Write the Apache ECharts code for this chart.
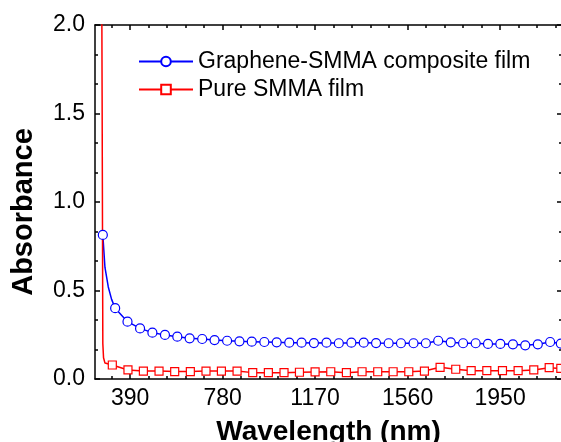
<!DOCTYPE html>
<html>
<head>
<meta charset="utf-8">
<script src="https://cdn.jsdelivr.net/npm/echarts@6/dist/echarts.min.js"></script>
<style>
  html, body { margin: 0; padding: 0; background: #fff; }
  #chart { width: 561px; height: 442px; }
</style>
</head>
<body>
<div id="chart"></div>
<script>
// x ticks (nm) and y ticks
const xMajorTicks = [390, 780, 1170, 1560, 1950]
const xMinorStep = 78

// Graphene-SMMA composite film: marker points
const blueWl  = [275, 327, 379, 432, 484, 537, 589, 641, 694, 746, 799, 851, 903, 956, 1008, 1061, 1113, 1165, 1218,
                 1270, 1323, 1375, 1427, 1480, 1532, 1585, 1637, 1689, 1742, 1794, 1847, 1899, 1951, 2004, 2056, 2109, 2161, 2206]
const blueAbs = [0.814, 0.400, 0.324, 0.286, 0.262, 0.249, 0.239, 0.230, 0.226, 0.220, 0.216, 0.213, 0.211, 0.209, 0.207, 0.205, 0.205, 0.203, 0.205,
                 0.202, 0.205, 0.205, 0.203, 0.202, 0.202, 0.202, 0.202, 0.216, 0.207, 0.202, 0.202, 0.198, 0.198, 0.196, 0.190, 0.196, 0.209, 0.200]
// extra points along the steep knee (no marker)
const blueCurveWl  = [284, 298, 312]
const blueCurveAbs = [0.630, 0.520, 0.450]

// Pure SMMA film: marker points
const redWl  = [315, 381, 446, 512, 578, 644, 710, 775, 841, 907, 973, 1039, 1104, 1170, 1236, 1302, 1368, 1434, 1499,
                1565, 1631, 1697, 1763, 1828, 1894, 1960, 2026, 2092, 2157, 2206]
const redAbs = [0.079, 0.051, 0.045, 0.045, 0.042, 0.042, 0.045, 0.045, 0.045, 0.036, 0.036, 0.036, 0.038, 0.040, 0.041, 0.036, 0.041, 0.041, 0.041,
                0.041, 0.045, 0.066, 0.055, 0.047, 0.047, 0.047, 0.047, 0.051, 0.064, 0.060]
const redCurveWl  = [270, 272, 275, 278, 284]
const redCurveAbs = [2.40, 1.60, 0.200, 0.120, 0.090]

const FONT = 'Liberation Sans, Arial, sans-serif'
const X_MIN = 242, X_MAX = 2211

const xMinorTicks = []
for (let v = xMinorStep * 4; v < X_MAX; v += xMinorStep) {
  if (v % 390 !== 0) xMinorTicks.push(v)
}

function buildData(wl, abs, curveWl, curveAbs) {
  const pts = wl.map((w, i) => ({ value: [w, abs[i]] }))
    .concat(curveWl.map((w, i) => ({ value: [w, curveAbs[i]], symbol: 'none' })))
  return pts.sort((a, b) => a.value[0] - b.value[0])
}

const chart = echarts.init(document.getElementById('chart'))

const grid = { left: 95, top: 25, width: 467, height: 354, outerBoundsMode: 'none' }

const xBase = { type: 'value', min: X_MIN, max: X_MAX, splitLine: { show: false } }

chart.setOption({
  animation: false,
  textStyle: { fontFamily: FONT, color: '#000' },
  grid,
  legend: {
    orient: 'vertical', left: 133, top: 45,
    itemWidth: 54, itemHeight: 12, itemGap: 5,
    textStyle: { fontSize: 23, color: '#000', fontFamily: FONT },
    data: ['Graphene-SMMA composite film', 'Pure SMMA film']
  },
  graphic: [{
    type: 'text', x: 24, y: 212, rotation: Math.PI / 2,
    style: {
      text: 'Absorbance', fill: '#000', font: 'bold 29px ' + FONT,
      align: 'center', verticalAlign: 'middle'
    }
  }],
  xAxis: [
    {
      ...xBase, position: 'bottom',
      name: 'Wavelength (nm)', nameLocation: 'middle', nameGap: 39,
      nameTextStyle: { fontSize: 28, fontWeight: 'bold', color: '#000', fontFamily: FONT },
      axisLine: { lineStyle: { color: '#000', width: 1.5 } },
      axisTick: { inside: true, length: 5, customValues: xMajorTicks, lineStyle: { color: '#000', width: 1.5 } },
      axisLabel: { customValues: xMajorTicks, fontSize: 23, margin: 8, color: '#000', fontFamily: FONT, formatter: v => String(v) }
    },
    {
      ...xBase, position: 'bottom',
      axisLine: { show: false },
      axisTick: { inside: true, length: 3, customValues: xMinorTicks, lineStyle: { color: '#000', width: 1.5 } },
      axisLabel: { show: false }
    },
    {
      ...xBase, position: 'top',
      axisLine: { lineStyle: { color: '#000', width: 1.5 } },
      axisTick: { inside: true, length: 5, customValues: xMajorTicks, lineStyle: { color: '#000', width: 1.5 } },
      axisLabel: { show: false }
    },
    {
      ...xBase, position: 'top',
      axisLine: { show: false },
      axisTick: { inside: true, length: 3, customValues: xMinorTicks, lineStyle: { color: '#000', width: 1.5 } },
      axisLabel: { show: false }
    }
  ],
  yAxis: [
    {
      type: 'value', min: 0, max: 2, interval: 0.5, position: 'left',
      splitLine: { show: false },
      axisLine: { show: true, lineStyle: { color: '#000', width: 1.5 } },
      axisTick: { show: true, inside: true, length: 5, lineStyle: { color: '#000', width: 1.5 } },
      minorTick: { show: true, splitNumber: 3, length: 3, lineStyle: { color: '#000', width: 1.5 } },
      axisLabel: { fontSize: 23, margin: 10, color: '#000', fontFamily: FONT, formatter: v => v.toFixed(1) }
    },
    {
      type: 'value', min: 0, max: 2, interval: 0.5, position: 'right',
      splitLine: { show: false },
      axisLine: { show: true, lineStyle: { color: '#000', width: 1.5 } },
      axisTick: { show: true, inside: true, length: 5, lineStyle: { color: '#000', width: 1.5 } },
      minorTick: { show: true, splitNumber: 3, length: 3, lineStyle: { color: '#000', width: 1.5 } },
      axisLabel: { show: false }
    }
  ],
  series: [
    {
      name: 'Graphene-SMMA composite film', type: 'line', xAxisIndex: 0, yAxisIndex: 0,
      data: buildData(blueWl, blueAbs, blueCurveWl, blueCurveAbs),
      symbol: 'circle', symbolSize: 9, showAllSymbol: true, clip: true,
      lineStyle: { color: '#0000ff', width: 1.5 },
      itemStyle: { color: '#fff', borderColor: '#0000ff', borderWidth: 1.2 }
    },
    {
      name: 'Pure SMMA film', type: 'line', xAxisIndex: 0, yAxisIndex: 0,
      data: buildData(redWl, redAbs, redCurveWl, redCurveAbs),
      symbol: 'rect', symbolSize: 8, showAllSymbol: true, clip: true,
      lineStyle: { color: '#ff0000', width: 1.5 },
      itemStyle: { color: '#fff', borderColor: '#ff0000', borderWidth: 1.2 }
    }
  ]
})
</script>
</body>
</html>
